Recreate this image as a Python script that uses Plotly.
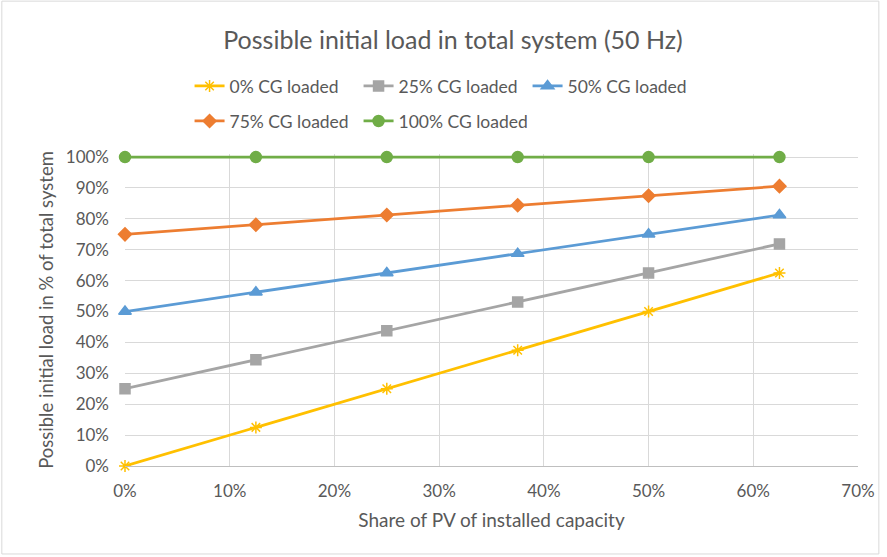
import plotly.graph_objects as go

x_share = [0.0, 0.125, 0.25, 0.375, 0.5, 0.625]
series_names = ["0% CG loaded", "25% CG loaded", "50% CG loaded", "75% CG loaded", "100% CG loaded"]
y_0 = [0.0, 0.125, 0.25, 0.375, 0.5, 0.625]
y_25 = [0.25, 0.344, 0.4375, 0.531, 0.625, 0.719]
y_50 = [0.5, 0.5625, 0.625, 0.6875, 0.75, 0.8125]
y_75 = [0.75, 0.781, 0.8125, 0.844, 0.875, 0.906]
y_100 = [1.0, 1.0, 1.0, 1.0, 1.0, 1.0]
x_ticks = [0, 0.1, 0.2, 0.3, 0.4, 0.5, 0.6, 0.7]
y_ticks = [0, 0.1, 0.2, 0.3, 0.4, 0.5, 0.6, 0.7, 0.8, 0.9, 1.0]

colors = ["#FFC000", "#A5A5A5", "#5B9BD5", "#ED7D31", "#70AD47"]
symbols = ["asterisk-open", "square", "triangle-up", "diamond", "circle"]
sizes = [10, 10, 11, 10, 11]
legends = ["legend", "legend", "legend", "legend2", "legend2"]
ys = [y_0, y_25, y_50, y_75, y_100]

FONT = "Lato"
fig = go.Figure()
for name, y, c, s, sz, lg in zip(series_names, ys, colors, symbols, sizes, legends):
    fig.add_trace(go.Scatter(
        x=x_share, y=y, name=name, mode="lines+markers",
        line=dict(color=c, width=2.75),
        marker=dict(symbol=s, size=sz, color=c, line=dict(color=c, width=1.5)),
        legend=lg, cliponaxis=False,
    ))

W, H = 887, 557
L, R, B = 125, 24, 91
YMAX = 1.01
ph = (H - B - 157) * YMAX  # so that 1.0 lands at pixel 157
T = int(round(H - B - ph))
pw = W - L - R

def px(xp):
    return (xp - L) / pw

def py(yp):
    return (H - B - yp) / ph

legend_common = dict(orientation="h", xanchor="left", yanchor="middle",
                      font=dict(family=FONT, size=17.5, color="#595959"),
                      entrywidth=124, entrywidthmode="pixels",
                      bgcolor="rgba(0,0,0,0)", traceorder="normal", itemwidth=30)

fig.update_layout(
    width=W, height=H,
    margin=dict(l=L, r=R, t=T, b=B),
    paper_bgcolor="white", plot_bgcolor="white",
    font=dict(family=FONT, color="#595959"),
    title=dict(text="Possible initial load in total system (50 Hz)",
               x=453 / W, xref="container", xanchor="center", y=1 - 40 / H, yanchor="middle",
               font=dict(family=FONT, size=25, color="#595959")),
    xaxis=dict(range=[0, 0.7], tickvals=x_ticks, tickformat=".0%",
               showgrid=True, gridcolor="#D9D9D9", gridwidth=1,
               showline=True, linecolor="#BFBFBF", linewidth=1, zeroline=False,
               tickfont=dict(family=FONT, size=17, color="#595959"), ticks="",
               ticklabelstandoff=10,
               title=dict(text="Share of PV of installed capacity",
                          font=dict(family=FONT, size=19, color="#595959"), standoff=13)),
    yaxis=dict(range=[0, YMAX], tickvals=y_ticks, tickformat=".0%",
               showgrid=True, gridcolor="#D9D9D9", gridwidth=1,
               showline=False, zeroline=False,
               tickfont=dict(family=FONT, size=17, color="#595959"), ticks="",
               ticklabelstandoff=15,
               title=dict(text="Possible initial load in % of total system",
                          font=dict(family=FONT, size=18.5, color="#595959"), standoff=7)),
    legend=dict(x=px(190), y=py(86), **legend_common),
    legend2=dict(x=px(190), y=py(121), **legend_common),
    showlegend=True,
    shapes=[dict(type="rect", xref="paper", yref="paper",
                 x0=px(1), x1=px(884), y0=py(554), y1=py(1),
                 line=dict(color="#D9D9D9", width=1), fillcolor="rgba(0,0,0,0)", layer="below")],
)

fig.write_html("out.html")
